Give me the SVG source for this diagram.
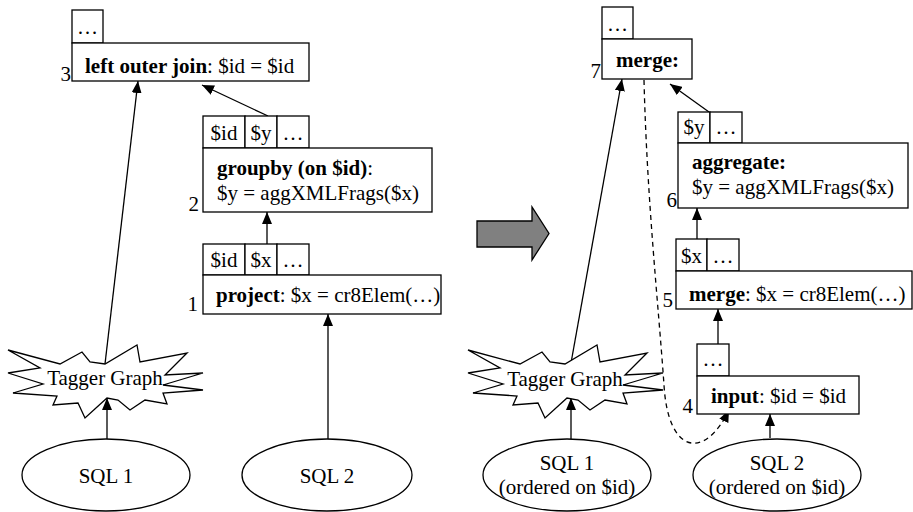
<svg xmlns="http://www.w3.org/2000/svg" width="913" height="512" viewBox="0 0 913 512">
<style>
  text { font-family: "Liberation Serif", "Times New Roman", serif; font-size: 21px; fill: #000; }
  .b { font-weight: bold; }
  .m { text-anchor: middle; }
  .e { text-anchor: end; }
  .box { fill: #fff; stroke: #000; stroke-width: 1.3; }
  .ln { fill: none; stroke: #000; stroke-width: 1.3; }
  .dash { fill: none; stroke: #000; stroke-width: 1.3; stroke-dasharray: 5 4; }
</style>
<defs>
  <marker id="ah" markerUnits="userSpaceOnUse" markerWidth="12" markerHeight="10" refX="12" refY="5" orient="auto">
    <path d="M0,0 L12,5 L0,10 z" fill="#000"/>
  </marker>
  <polygon id="star" points="8,350 60,364 82,352 90,362 105,364 137,345 140,362 187,353 165,375 203,373 163,385 203,390 163,393 167,404 145,400 130,410 118,400 107,398 85,418 78,403 53,405 57,396 13,393 43,384 8,373 40,368" class="box"/>
</defs>

<g id="connectors">
  <line class="ln" x1="107" y1="439" x2="107" y2="398" marker-end="url(#ah)"/>
  <line class="ln" x1="105" y1="364" x2="138" y2="81" marker-end="url(#ah)"/>
  <line class="ln" x1="328" y1="439" x2="328" y2="314" marker-end="url(#ah)"/>
  <line class="ln" x1="267" y1="244" x2="267" y2="212" marker-end="url(#ah)"/>
  <line class="ln" x1="268" y1="116" x2="202" y2="85" marker-end="url(#ah)"/>
  <line class="ln" x1="571" y1="439" x2="571" y2="398" marker-end="url(#ah)"/>
  <line class="ln" x1="571" y1="363" x2="622" y2="79" marker-end="url(#ah)"/>
  <path class="dash" d="M644,80 C647,200 658,300 664,385 C668,455 705,460 729,410" marker-end="url(#ah)"/>
  <line class="ln" x1="770" y1="438" x2="770" y2="414" marker-end="url(#ah)"/>
  <line class="ln" x1="718" y1="344" x2="718" y2="309" marker-end="url(#ah)"/>
  <line class="ln" x1="697" y1="239" x2="697" y2="208" marker-end="url(#ah)"/>
  <line class="ln" x1="709" y1="112" x2="670" y2="84" marker-end="url(#ah)"/>
</g>

<g id="n3-loj">
  <rect class="box" x="72" y="10" width="31" height="33"/>
  <text class="m" x="87.5" y="34">…</text>
  <rect class="box" x="72" y="43" width="237" height="38"/>
  <text x="85" y="73"><tspan class="b">left outer join</tspan>: $id = $id</text>
  <text class="e" x="71" y="81">3</text>
</g>

<g id="n2-groupby">
  <rect class="box" x="203" y="116" width="42" height="32"/>
  <rect class="box" x="245" y="116" width="32" height="32"/>
  <rect class="box" x="277" y="116" width="32" height="32"/>
  <text class="m" x="224" y="140">$id</text>
  <text class="m" x="261" y="140">$y</text>
  <text class="m" x="293" y="140">…</text>
  <rect class="box" x="203" y="148" width="229" height="64"/>
  <text class="b" x="217" y="175">groupby (on $id)<tspan font-weight="normal">:</tspan></text>
  <text x="217" y="200">$y = aggXMLFrags($x)</text>
  <text class="e" x="199" y="211">2</text>
</g>

<g id="n1-project">
  <rect class="box" x="203" y="244" width="42" height="31"/>
  <rect class="box" x="245" y="244" width="32" height="31"/>
  <rect class="box" x="277" y="244" width="32" height="31"/>
  <text class="m" x="224" y="267">$id</text>
  <text class="m" x="261" y="267">$x</text>
  <text class="m" x="293" y="267">…</text>
  <rect class="box" x="203" y="275" width="238" height="39"/>
  <text x="216" y="302"><tspan class="b">project</tspan>: $x = cr8Elem(…)</text>
  <text class="e" x="198" y="311">1</text>
</g>

<g id="tagger-left">
  <use href="#star"/>
  <text class="m" x="105" y="385">Tagger Graph</text>
</g>

<g id="sql1-left">
  <ellipse class="box" cx="106" cy="475" rx="84" ry="36"/>
  <text class="m" x="106" y="483">SQL 1</text>
</g>

<g id="sql2-left">
  <ellipse class="box" cx="327" cy="475" rx="85" ry="36"/>
  <text class="m" x="327" y="483">SQL 2</text>
</g>

<g id="transform-arrow">
  <polygon points="477,221 532,221 532,207 549,233.5 532,260 532,247 477,247" fill="#808080" stroke="#000" stroke-width="1.3"/>
</g>

<g id="n7-merge">
  <rect class="box" x="602" y="7" width="31" height="32"/>
  <text class="m" x="617.5" y="31">…</text>
  <rect class="box" x="602" y="39" width="90" height="40"/>
  <text class="b" x="616" y="67">merge:</text>
  <text class="e" x="601" y="78">7</text>
</g>

<g id="n6-aggregate">
  <rect class="box" x="678" y="112" width="32" height="31"/>
  <rect class="box" x="710" y="112" width="32" height="31"/>
  <text class="m" x="694" y="134">$y</text>
  <text class="m" x="726" y="134">…</text>
  <rect class="box" x="678" y="143" width="230" height="65"/>
  <text class="b" x="692" y="169">aggregate:</text>
  <text x="692" y="194">$y = aggXMLFrags($x)</text>
  <text class="e" x="677" y="207">6</text>
</g>

<g id="n5-merge">
  <rect class="box" x="676" y="239" width="31" height="32"/>
  <rect class="box" x="707" y="239" width="32" height="32"/>
  <text class="m" x="691.5" y="263">$x</text>
  <text class="m" x="723" y="263">…</text>
  <rect class="box" x="676" y="271" width="236" height="38"/>
  <text x="689" y="301"><tspan class="b">merge</tspan>: $x = cr8Elem(…)</text>
  <text class="e" x="673" y="307">5</text>
</g>

<g id="n4-input">
  <rect class="box" x="697" y="344" width="32" height="32"/>
  <text class="m" x="713" y="366">…</text>
  <rect class="box" x="697" y="376" width="162" height="38"/>
  <text x="711" y="403"><tspan class="b">input</tspan>: $id = $id</text>
  <text class="e" x="693" y="413">4</text>
</g>

<g id="tagger-right">
  <use href="#star" transform="translate(460,0)"/>
  <text class="m" x="565" y="386">Tagger Graph</text>
</g>

<g id="sql1-right">
  <ellipse class="box" cx="567" cy="475" rx="84" ry="36"/>
  <text class="m" x="567" y="470">SQL 1</text>
  <text class="m" x="567" y="494">(ordered on $id)</text>
</g>

<g id="sql2-right">
  <ellipse class="box" cx="777" cy="475" rx="84" ry="36"/>
  <text class="m" x="777" y="470">SQL 2</text>
  <text class="m" x="777" y="494">(ordered on $id)</text>
</g>
</svg>
